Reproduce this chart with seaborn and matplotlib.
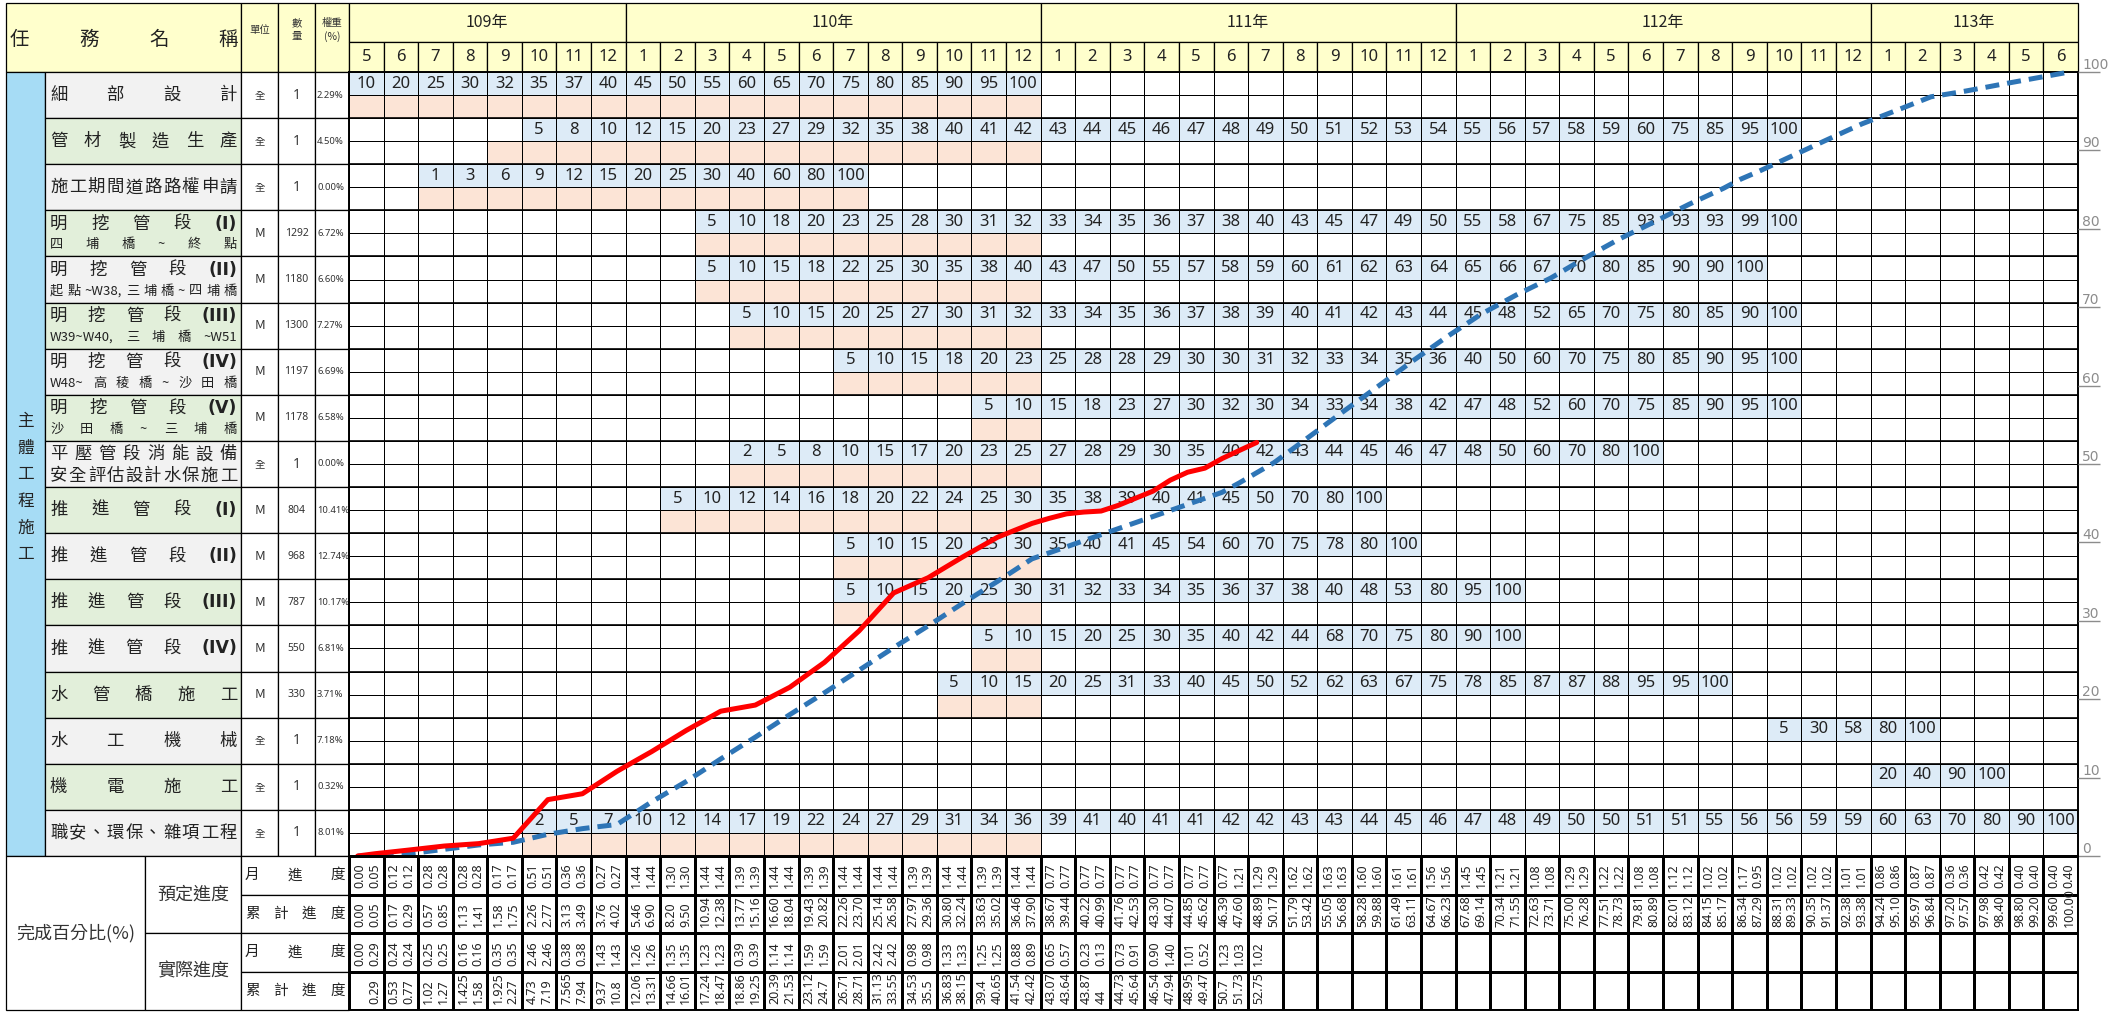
import numpy as np
import matplotlib
matplotlib.use('Agg')
import matplotlib.pyplot as plt
import seaborn as sns
from matplotlib.colors import ListedColormap
from matplotlib.patches import Rectangle
from matplotlib.transforms import offset_copy

sns.set_theme(style='white')
plt.rcParams['font.family'] = ['Noto Sans CJK TC', 'DejaVu Sans']

# ---------------- data ----------------
years = [109, 110, 111, 112, 113]
first_month = [5, 1, 1, 1, 1]
last_month = [12, 12, 12, 12, 6]

task_names = ['細 部 設 計', '管 材 製 造 生 產', '施 工 期 間 道 路 路 權 申 請',
              '明 挖 管 段 (I)', '明 挖 管 段 (II)', '明 挖 管 段 (III)', '明 挖 管 段 (IV)',
              '明 挖 管 段 (V)', '平 壓 管 段 消 能 設 備', '推 進 管 段 (I)', '推 進 管 段 (II)',
              '推 進 管 段 (III)', '推 進 管 段 (IV)', '水 管 橋 施 工', '水 工 機 械', '機 電 施 工',
              '職 安 、 環 保 、 雜 項 工 程']
task_notes = ['', '', '', '四 埔 橋 ~ 終 點', '起 點 ~W38, 三 埔 橋 ~ 四 埔 橋',
              'W39~W40, 三 埔 橋 ~W51', 'W48~ 高 稜 橋 ~ 沙 田 橋', '沙 田 橋 ~ 三 埔 橋',
              '安 全 評 估 設 計 水 保 施 工', '', '', '', '', '', '', '', '']
units = ['全', '全', '全', 'M', 'M', 'M', 'M', 'M', '全', 'M', 'M', 'M', 'M', 'M', '全', '全', '全']
qty = ['1', '1', '1', '1292', '1180', '1300', '1197', '1178', '1', '804', '968', '787', '550',
       '330', '1', '1', '1']
weight = ['2.29%', '4.50%', '0.00%', '6.72%', '6.60%', '7.27%', '6.69%', '6.58%', '0.00%',
          '10.41%', '12.74%', '10.17%', '6.81%', '3.71%', '7.18%', '0.32%', '8.01%']

task_start = ['109/5', '109/10', '109/7', '110/3', '110/3', '110/4', '110/7', '110/11',
              '110/4', '110/2', '110/7', '110/7', '110/11', '110/10', '112/10', '113/1', '109/10']
task_plan = [
    [10, 20, 25, 30, 32, 35, 37, 40, 45, 50, 55, 60, 65, 70, 75, 80, 85, 90, 95, 100],
    [5, 8, 10, 12, 15, 20, 23, 27, 29, 32, 35, 38, 40, 41, 42, 43, 44, 45, 46, 47, 48, 49, 50,
     51, 52, 53, 54, 55, 56, 57, 58, 59, 60, 75, 85, 95, 100],
    [1, 3, 6, 9, 12, 15, 20, 25, 30, 40, 60, 80, 100],
    [5, 10, 18, 20, 23, 25, 28, 30, 31, 32, 33, 34, 35, 36, 37, 38, 40, 43, 45, 47, 49, 50,
     55, 58, 67, 75, 85, 93, 93, 93, 99, 100],
    [5, 10, 15, 18, 22, 25, 30, 35, 38, 40, 43, 47, 50, 55, 57, 58, 59, 60, 61, 62, 63, 64,
     65, 66, 67, 70, 80, 85, 90, 90, 100],
    [5, 10, 15, 20, 25, 27, 30, 31, 32, 33, 34, 35, 36, 37, 38, 39, 40, 41, 42, 43, 44, 45,
     48, 52, 65, 70, 75, 80, 85, 90, 100],
    [5, 10, 15, 18, 20, 23, 25, 28, 28, 29, 30, 30, 31, 32, 33, 34, 35, 36, 40, 50, 60, 70,
     75, 80, 85, 90, 95, 100],
    [5, 10, 15, 18, 23, 27, 30, 32, 30, 34, 33, 34, 38, 42, 47, 48, 52, 60, 70, 75, 85, 90,
     95, 100],
    [2, 5, 8, 10, 15, 17, 20, 23, 25, 27, 28, 29, 30, 35, 40, 42, 43, 44, 45, 46, 47, 48, 50,
     60, 70, 80, 100],
    [5, 10, 12, 14, 16, 18, 20, 22, 24, 25, 30, 35, 38, 39, 40, 41, 45, 50, 70, 80, 100],
    [5, 10, 15, 20, 25, 30, 35, 40, 41, 45, 54, 60, 70, 75, 78, 80, 100],
    [5, 10, 15, 20, 25, 30, 31, 32, 33, 34, 35, 36, 37, 38, 40, 48, 53, 80, 95, 100],
    [5, 10, 15, 20, 25, 30, 35, 40, 42, 44, 68, 70, 75, 80, 90, 100],
    [5, 10, 15, 20, 25, 31, 33, 40, 45, 50, 52, 62, 63, 67, 75, 78, 85, 87, 87, 88, 95, 95, 100],
    [5, 30, 58, 80, 100],
    [20, 40, 90, 100],
    [2, 5, 7, 10, 12, 14, 17, 19, 22, 24, 27, 29, 31, 34, 36, 39, 41, 40, 41, 41, 42, 42, 43,
     43, 44, 45, 46, 47, 48, 49, 50, 50, 51, 51, 55, 56, 56, 59, 59, 60, 63, 70, 80, 90, 100],
]
# actual-progress shading (from month, up to the data month)
done_start = ['109/5', '109/9', '109/7', '110/3', '110/3', '110/4', '110/7', '110/11',
              '110/4', '110/2', '110/7', '110/7', '110/11', '110/10', None, None, '109/10']
done_end = '110/12'

# half-month progress (%), two values per month
plan_month = [0.00, 0.05, 0.12, 0.12, 0.28, 0.28, 0.28, 0.28, 0.17, 0.17, 0.51, 0.51, 0.36, 0.36,
              0.27, 0.27,
              1.44, 1.44, 1.30, 1.30, 1.44, 1.44, 1.39, 1.39, 1.44, 1.44, 1.39, 1.39, 1.44, 1.44,
              1.44, 1.44, 1.39, 1.39, 1.44, 1.44, 1.39, 1.39, 1.44, 1.44,
              0.77, 0.77, 0.77, 0.77, 0.77, 0.77, 0.77, 0.77, 0.77, 0.77, 0.77, 1.21, 1.29, 1.29,
              1.62, 1.62, 1.63, 1.63, 1.60, 1.60, 1.61, 1.61, 1.56, 1.56,
              1.45, 1.45, 1.21, 1.21, 1.08, 1.08, 1.29, 1.29, 1.22, 1.22, 1.08, 1.08, 1.12, 1.12,
              1.02, 1.02, 1.17, 0.95, 1.02, 1.02, 1.02, 1.02, 1.01, 1.01,
              0.86, 0.86, 0.87, 0.87, 0.36, 0.36, 0.42, 0.42, 0.40, 0.40, 0.40, 0.40]
plan_cum = [0.00, 0.05, 0.17, 0.29, 0.57, 0.85, 1.13, 1.41, 1.58, 1.75, 2.26, 2.77, 3.13, 3.49,
            3.76, 4.02,
            5.46, 6.90, 8.20, 9.50, 10.94, 12.38, 13.77, 15.16, 16.60, 18.04, 19.43, 20.82, 22.26,
            23.70, 25.14, 26.58, 27.97, 29.36, 30.80, 32.24, 33.63, 35.02, 36.46, 37.90,
            38.67, 39.44, 40.22, 40.99, 41.76, 42.53, 43.30, 44.07, 44.85, 45.62, 46.39, 47.60,
            48.89, 50.17, 51.79, 53.42, 55.05, 56.68, 58.28, 59.88, 61.49, 63.11, 64.67, 66.23,
            67.68, 69.14, 70.34, 71.55, 72.63, 73.71, 75.00, 76.28, 77.51, 78.73, 79.81, 80.89,
            82.01, 83.12, 84.15, 85.17, 86.34, 87.29, 88.31, 89.33, 90.35, 91.37, 92.38, 93.38,
            94.24, 95.10, 95.97, 96.84, 97.20, 97.57, 97.98, 98.40, 98.80, 99.20, 99.60, 100.00]
act_month = [0.00, 0.29, 0.24, 0.24, 0.25, 0.25, 0.16, 0.16, 0.35, 0.35, 2.46, 2.46, 0.38, 0.38,
             1.43, 1.43,
             1.26, 1.26, 1.35, 1.35, 1.23, 1.23, 0.39, 0.39, 1.14, 1.14, 1.59, 1.59, 2.01, 2.01,
             2.42, 2.42, 0.98, 0.98, 1.33, 1.33, 1.25, 1.25, 0.88, 0.89,
             0.65, 0.57, 0.23, 0.13, 0.73, 0.91, 0.90, 1.40, 1.01, 0.52, 1.23, 1.03, 1.02]
act_cum = [None, 0.29, 0.53, 0.77, 1.02, 1.27, 1.425, 1.58, 1.925, 2.27, 4.73, 7.19, 7.565, 7.94,
           9.37, 10.8,
           12.06, 13.31, 14.66, 16.01, 17.24, 18.47, 18.86, 19.25, 20.39, 21.53, 23.12, 24.7,
           26.71, 28.71, 31.13, 33.55, 34.53, 35.5, 36.83, 38.15, 39.4, 40.65, 41.54, 42.42,
           43.07, 43.64, 43.87, 44, 44.73, 45.64, 46.54, 47.94, 48.95, 49.47, 50.7, 51.73, 52.75]

row_labels = ['月 進 度', '累 計 進 度', '月 進 度', '累 計 進 度']

# ---------------- layout ----------------
W, H = 2123, 1017
L, XB, XN, XU, XQ, XG, XR = 6, 45, 241, 278, 315, 349, 2078
XP = 145
YT, YY, YH, YG, YB = 3, 42, 72, 856, 1010
YEL, BLUE, PINK = '#ffffcc', '#ddebf7', '#fce4d6'
NUMF = ['Noto Sans', 'DejaVu Sans']
NARROW = ['Liberation Sans Narrow', 'Noto Sans', 'DejaVu Sans']

months = [f'{y}/{m}' for y, a, b in zip(years, first_month, last_month) for m in range(a, b + 1)]
n_m = len(months)
n_t = len(task_names)
rowh = (YG - YH) / n_t
colw = (XR - XG) / n_m

fig = plt.figure(figsize=(W / 100, H / 100), dpi=100)
fig.patch.set_facecolor('white')
ax0 = fig.add_axes([0, 0, 1, 1])
ax0.set_xlim(0, W)
ax0.set_ylim(H, 0)
ax0.axis('off')
renderer = fig.canvas.get_renderer()


def rect_axes(x0, y0, x1, y1):
    return fig.add_axes([x0 / W, 1 - y1 / H, (x1 - x0) / W, (y1 - y0) / H])


def cell(x0, y0, x1, y1, fc='white', lw=0.9):
    ax0.add_patch(Rectangle((x0, y0), x1 - x0, y1 - y0, facecolor=fc, edgecolor='black',
                            linewidth=lw))


def spread(text, x0, x1, y, size):
    toks = text.split()
    objs = []
    for t in toks:
        kw = dict(fontsize=size, va='center', ha='left', color='#222222')
        if t.startswith('('):
            kw.update(fontweight='bold', family=['DejaVu Sans'])
        objs.append(ax0.text(0, y, t, **kw))
    widths = [o.get_window_extent(renderer).width for o in objs]
    gap = (x1 - x0 - sum(widths)) / max(len(toks) - 1, 1)
    x = x0
    for o, w in zip(objs, widths):
        o.set_x(x)
        x += w + gap


# header
cell(L, YT, XN, YH, YEL)
spread('任 務 名 稱', L + 4, XN - 3, (YT + YH) / 2 + 2, 14)
cell(XN, YT, XU, YH, YEL)
ax0.text((XN + XU) / 2, 30, '單位', ha='center', va='center', fontsize=7.5, color='#333')
cell(XU, YT, XQ, YH, YEL)
ax0.text((XU + XQ) / 2, 30, '數\n量', ha='center', va='center', fontsize=7.5, color='#333',
         linespacing=1.3)
cell(XQ, YT, XG, YH, YEL)
ax0.text((XQ + XG) / 2, 30, '權重\n(%)', ha='center', va='center', fontsize=7.5, color='#333',
         linespacing=1.3)
c = 0
for y, a, b in zip(years, first_month, last_month):
    n = b - a + 1
    cell(XG + c * colw, YT, XG + (c + n) * colw, YY, YEL)
    ax0.text(XG + (c + n / 2) * colw, (YT + YY) / 2, f'{y}年', ha='center', va='center',
             fontsize=11.5, color='#222')
    c += n
for j, mlab in enumerate(months):
    cell(XG + j * colw, YY, XG + (j + 1) * colw, YH, YEL)
    ax0.text(XG + (j + 0.5) * colw, (YY + YH) / 2, mlab.split('/')[1], ha='center',
             va='center', fontsize=12, family=NUMF, color='#222')

# left label columns
cell(L, YH, XB, YG, '#a6dcf5')
ax0.text((L + XB) / 2, 488, '\n'.join('主體工程施工'), ha='center', va='center', fontsize=12,
         linespacing=1.75, color='#222')
for k in range(n_t):
    y0 = YH + k * rowh
    cell(XB, y0, XN, y0 + rowh, '#f2f2f2' if k % 2 == 0 else '#e2efda')
    note = task_notes[k]
    if note:
        big = '(' not in task_names[k]
        spread(task_names[k], XB + 5, XN - 4, y0 + rowh * 0.29, 12.5)
        spread(note, XB + 5, XN - 4, y0 + rowh * 0.75, 12.5 if big else 9.5)
    else:
        spread(task_names[k], XB + 5, XN - 4, y0 + rowh / 2, 12.5)
    cell(XN, y0, XU, y0 + rowh)
    ax0.text((XN + XU) / 2, y0 + rowh / 2, units[k], ha='center', va='center',
             fontsize=7.5 if units[k] == '全' else 9.5, color='#333')
    cell(XU, y0, XQ, y0 + rowh)
    ax0.text((XU + XQ) / 2, y0 + rowh / 2, qty[k], ha='center', va='center',
             fontsize=10 if len(qty[k]) == 1 else 7.5, family=NUMF, color='#333')
    cell(XQ, y0, XG, y0 + rowh)
    ax0.text(XQ + 2, y0 + rowh / 2, weight[k], ha='left', va='center', fontsize=6.8,
             family=NUMF, color='#333')

# bottom label block
bh = (YB - YG) / 4
cell(L, YG, XP, YB)
ax0.text((L + XP) / 2, (YG + YB) / 2, '完成百分比(%)', ha='center', va='center', fontsize=13,
         color='#333')
cell(XP, YG, XN, YG + 2 * bh)
ax0.text((XP + XN) / 2, YG + bh, '預定進度', ha='center', va='center', fontsize=13, color='#333')
cell(XP, YG + 2 * bh, XN, YB)
ax0.text((XP + XN) / 2, YG + 3 * bh, '實際進度', ha='center', va='center', fontsize=13,
         color='#333')
for i, lab in enumerate(row_labels):
    cell(XN, YG + i * bh, XG, YG + (i + 1) * bh)
    spread(lab, XN + 4, XG - 4, YG + (i + 0.5) * bh, 10.5)

# ---------------- task grid (heatmap) ----------------
code = np.zeros((2 * n_t, n_m))
annot = np.full((2 * n_t, n_m), '', dtype=object)
for k, (s, vals, ds) in enumerate(zip(task_start, task_plan, done_start)):
    c0 = months.index(s)
    for j, v in enumerate(vals):
        code[2 * k, c0 + j] = 1
        annot[2 * k, c0 + j] = str(v)
    if ds:
        d0 = months.index(ds)
        d1 = min(months.index(done_end), c0 + len(vals) - 1)
        code[2 * k + 1, d0:d1 + 1] = 2

axg = rect_axes(XG, YH, XR, YG)
sns.heatmap(code, ax=axg, cmap=ListedColormap(['white', BLUE, PINK]), vmin=0, vmax=2,
            cbar=False, annot=annot, fmt='', linewidths=0.7, linecolor='black',
            xticklabels=False, yticklabels=False,
            annot_kws=dict(fontsize=12, family=NUMF, color='#222222'))
axg.hlines(np.arange(0, 2 * n_t + 1, 2), 0, n_m, color='black', linewidth=1.2)
for s in axg.spines.values():
    s.set_visible(True)
    s.set_color('black')
    s.set_linewidth(1.4)

# ---------------- S-curves ----------------
axc = rect_axes(XG, YH, XR, YG)
axc.patch.set_alpha(0)
xp = np.arange(len(plan_cum)) / 2 + 0.25
xa = np.arange(len(act_cum)) / 2 + 0.25
act_line = [0 if v is None else v for v in act_cum]
sns.lineplot(x=xp, y=plan_cum, ax=axc, color='#2e75b6', linewidth=3.6,
             linestyle=(0, (2.8, 1.6)), clip_on=False)
sns.lineplot(x=xa, y=act_line, ax=axc, color='#ff0000', linewidth=3.6, clip_on=False)
axc.set_xlim(0, n_m)
axc.set_ylim(0, 100)
axc.set_xlabel('')
axc.set_ylabel('')
axc.set_xticks([])
axc.set_yticks(range(0, 101, 10))
for s in axc.spines.values():
    s.set_visible(False)
axc.tick_params(axis='y', left=False, right=True, labelleft=False, labelright=True,
                direction='out', length=16, width=1, color='#8c8c8c', labelcolor='#8c8c8c',
                labelsize=10, pad=-13, labelfontfamily='DejaVu Sans')
for t in axc.yaxis.get_major_ticks():
    t.label2.set_va('bottom')

# ---------------- bottom progress table ----------------
axb = rect_axes(XG, YG, XR, YB)
sns.heatmap(np.zeros((4, n_m)), ax=axb, cmap=ListedColormap(['white']), cbar=False,
            linewidths=0.9, linecolor='black', xticklabels=False, yticklabels=False)
for s in axb.spines.values():
    s.set_visible(True)
    s.set_color('black')
    s.set_linewidth(1.4)
lift = offset_copy(axb.transData, fig=fig, x=0, y=6, units='dots')
series = [plan_month, plan_cum, act_month, act_cum]
for r, vals in enumerate(series):
    for i, v in enumerate(vals):
        if v is None:
            continue
        txt = f'{v:.2f}' if r < 3 else f'{v:g}'
        axb.text(i // 2 + (0.31 if i % 2 == 0 else 0.74), r + 1, txt, rotation=90,
                 ha='center', va='bottom', fontsize=9, family=NARROW, color='#222',
                 transform=lift)

fig.savefig('out.png', dpi=100)
